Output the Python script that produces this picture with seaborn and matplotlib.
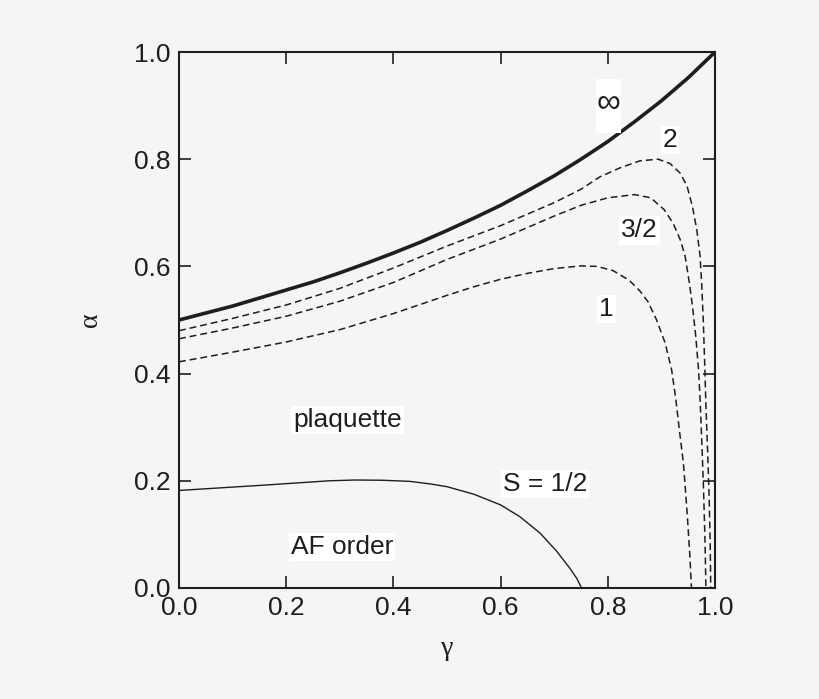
import matplotlib
matplotlib.use('Agg')
import matplotlib.pyplot as plt
from matplotlib.patches import Rectangle
import seaborn as sns

# courbes (gamma, alpha)
gamma_inf = [0.0, 0.05, 0.1, 0.15, 0.2, 0.25, 0.3, 0.35, 0.4, 0.45, 0.5,
             0.55, 0.6, 0.65, 0.7, 0.75, 0.8, 0.85, 0.9, 0.95, 1.0]
alpha_inf = [0.500, 0.513, 0.526, 0.541, 0.556, 0.571, 0.588, 0.606, 0.625, 0.645, 0.667,
             0.690, 0.714, 0.741, 0.769, 0.800, 0.833, 0.870, 0.909, 0.952, 1.000]

gamma_s2 = [0.0, 0.1, 0.2, 0.3, 0.4, 0.5, 0.6, 0.7, 0.75, 0.785, 0.823, 0.86, 0.894,
            0.916, 0.935, 0.948, 0.958, 0.966, 0.972, 0.975, 0.978, 0.981, 0.983,
            0.986, 0.989, 0.991, 0.992]
alpha_s2 = [0.480, 0.503, 0.528, 0.559, 0.597, 0.638, 0.676, 0.719, 0.744, 0.767, 0.784, 0.797, 0.800,
            0.792, 0.774, 0.749, 0.711, 0.668, 0.620, 0.570, 0.500, 0.410, 0.340,
            0.260, 0.170, 0.080, 0.000]

gamma_s32 = [0.0, 0.1, 0.2, 0.3, 0.4, 0.5, 0.6, 0.7, 0.75, 0.8, 0.85, 0.88, 0.905,
             0.922, 0.935, 0.944, 0.952, 0.958, 0.964, 0.969, 0.972, 0.975, 0.978,
             0.981, 0.983]
alpha_s32 = [0.465, 0.485, 0.507, 0.535, 0.570, 0.613, 0.651, 0.694, 0.714, 0.728, 0.734, 0.728, 0.706,
             0.680, 0.650, 0.620, 0.570, 0.525, 0.470, 0.410, 0.355, 0.280, 0.200,
             0.100, 0.000]

gamma_s1 = [0.0, 0.1, 0.2, 0.3, 0.4, 0.5, 0.55, 0.6, 0.65, 0.7, 0.75, 0.78, 0.81,
            0.84, 0.86, 0.875, 0.891, 0.907, 0.919, 0.927, 0.934, 0.941, 0.948,
            0.953, 0.956]
alpha_s1 = [0.422, 0.440, 0.459, 0.482, 0.512, 0.546, 0.562, 0.576, 0.587, 0.596, 0.601, 0.600, 0.592,
            0.574, 0.554, 0.534, 0.500, 0.457, 0.407, 0.351, 0.290, 0.233, 0.140,
            0.060, 0.000]

gamma_s12 = [0.0, 0.08, 0.16, 0.22, 0.28, 0.33, 0.38, 0.43, 0.47, 0.5, 0.55, 0.6,
             0.636, 0.674, 0.705, 0.729, 0.742, 0.751]
alpha_s12 = [0.182, 0.187, 0.192, 0.196, 0.200, 0.2015, 0.201, 0.199, 0.194, 0.189, 0.175, 0.155,
             0.133, 0.102, 0.068, 0.037, 0.018, 0.000]

ticks = [0.0, 0.2, 0.4, 0.6, 0.8, 1.0]
tick_labels = ['0.0', '0.2', '0.4', '0.6', '0.8', '1.0']

# étiquettes (texte, gamma, alpha)
labels = [('2', 0.916, 0.836), ('3/2', 0.859, 0.667), ('1', 0.798, 0.521),
          ('plaquette', 0.315, 0.314), ('AF order', 0.304, 0.076), ('S = 1/2', 0.684, 0.194)]

sns.set_style('ticks')
plt.rcParams['font.family'] = ['Liberation Sans', 'DejaVu Sans']

bg = '#f5f5f5'
ink = '#1e1e1e'
fig = plt.figure(figsize=(8.2, 6.99), dpi=100, facecolor=bg)
ax = fig.add_axes([0.2183, 0.1588, 0.6537, 0.7668])
ax.set_facecolor(bg)

dash = (0, (4.5, 2.6))
sns.lineplot(x=gamma_inf, y=alpha_inf, ax=ax, color=ink, linewidth=2.6, estimator=None, sort=False)
sns.lineplot(x=gamma_s2, y=alpha_s2, ax=ax, color=ink, linewidth=1.1, linestyle=dash, estimator=None, sort=False)
sns.lineplot(x=gamma_s32, y=alpha_s32, ax=ax, color=ink, linewidth=1.1, linestyle=dash, estimator=None, sort=False)
sns.lineplot(x=gamma_s1, y=alpha_s1, ax=ax, color=ink, linewidth=1.1, linestyle=dash, estimator=None, sort=False)
sns.lineplot(x=gamma_s12, y=alpha_s12, ax=ax, color=ink, linewidth=1.0, estimator=None, sort=False)

# boite blanche du symbole infini
ax.add_patch(Rectangle((0.778, 0.849), 0.047, 0.101, facecolor='white', edgecolor='none', zorder=3))
ax.text(0.8015, 0.903, '∞', fontsize=24, ha='center', va='center', color=ink, zorder=4)

for txt, gx, ay in labels:
    ax.text(gx, ay, txt, fontsize=19, ha='center', va='center', color=ink, zorder=4,
            bbox=dict(facecolor='white', edgecolor='none', pad=1.5))

ax.set_xlim(0, 1)
ax.set_ylim(0, 1)
ax.set_xticks(ticks)
ax.set_xticklabels(tick_labels)
ax.set_yticks(ticks)
ax.set_yticklabels(tick_labels)
ax.tick_params(direction='in', top=True, right=True, length=8.5, width=1.2,
               labelsize=19, colors=ink, pad=6)
for sp in ax.spines.values():
    sp.set_linewidth(1.5)
    sp.set_color(ink)

ax.set_xlabel('γ', fontsize=20, family='Liberation Serif', color=ink, labelpad=11)
ax.set_ylabel('α', fontsize=20, family='Liberation Serif', color=ink, labelpad=22)

fig.savefig('out.png', dpi=100, facecolor=bg)
